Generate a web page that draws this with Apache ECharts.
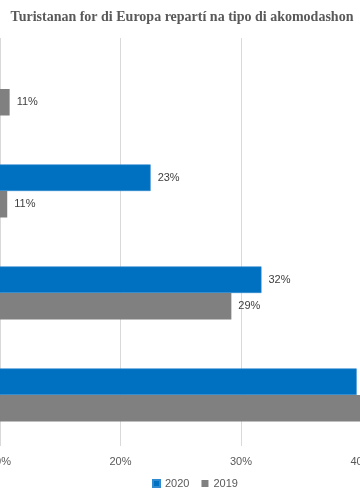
<!DOCTYPE html>
<html>
<head>
<meta charset="utf-8">
<script src="https://cdn.jsdelivr.net/npm/echarts@6/dist/echarts.min.js"></script>
<style>html,body{margin:0;padding:0;background:#fff}#c{width:360px;height:500px}</style>
</head>
<body>
<div id="c"></div>
<script>
var categories = ['Kas di famia', 'Apartamentu', 'Timeshare', 'Hotel'];
var values2020 = [5, 22.5, 31.7, 39.6];
var values2019 = [10.8, 10.6, 29.2, 45];
var xTicks = [0, 10, 20, 30, 40, 50];
var seriesNames = ['2020', '2019'];

var chart = echarts.init(document.getElementById('c'), null, {renderer: 'canvas'});
var labelFmt = function (p) { return Math.round(p.value) + '%'; };
chart.setOption({
  animation: false,
  title: {
    text: 'Turistanan for di Europa repartí na tipo di akomodashon',
    left: 177, textAlign: 'center', top: 5,
    textStyle: {fontFamily: 'Liberation Serif', fontSize: 14, fontWeight: 'bold', color: '#595959'}
  },
  legend: {
    data: seriesNames,
    left: 147, bottom: 6,
    itemWidth: 7, itemHeight: 7, itemGap: 12,
    icon: 'rect',
    textStyle: {fontFamily: 'Liberation Sans', fontSize: 11, color: '#595959'}
  },
  grid: {left: -120.5, right: -122, top: 38, bottom: 54, containLabel: false, outerBoundsMode: 'none'},
  xAxis: {
    type: 'value', min: xTicks[0], max: xTicks[xTicks.length - 1], interval: 10,
    axisLine: {show: false}, axisTick: {show: false},
    splitLine: {lineStyle: {color: '#D9D9D9', width: 1}},
    axisLabel: {formatter: '{value}%', fontFamily: 'Liberation Sans', fontSize: 11, color: '#595959', margin: 10}
  },
  yAxis: {
    type: 'category', data: categories, inverse: true,
    axisLine: {lineStyle: {color: '#D9D9D9'}}, axisTick: {show: false},
    axisLabel: {fontFamily: 'Liberation Sans', fontSize: 11, color: '#595959'}
  },
  series: [
    {
      name: seriesNames[0], type: 'bar', data: values2020,
      barGap: '0%', barCategoryGap: '48%',
      itemStyle: {color: '#0070C0', borderColor: '#2F8AD0', borderWidth: 0.6},
      label: {show: true, position: 'right', distance: 7, formatter: labelFmt,
        fontFamily: 'Liberation Sans', fontSize: 11, color: '#404040'}
    },
    {
      name: seriesNames[1], type: 'bar', data: values2019,
      barGap: '0%', barCategoryGap: '48%',
      itemStyle: {color: '#808080'},
      label: {show: true, position: 'right', distance: 7, formatter: labelFmt,
        fontFamily: 'Liberation Sans', fontSize: 11, color: '#404040'}
    }
  ]
});
</script>
</body>
</html>
